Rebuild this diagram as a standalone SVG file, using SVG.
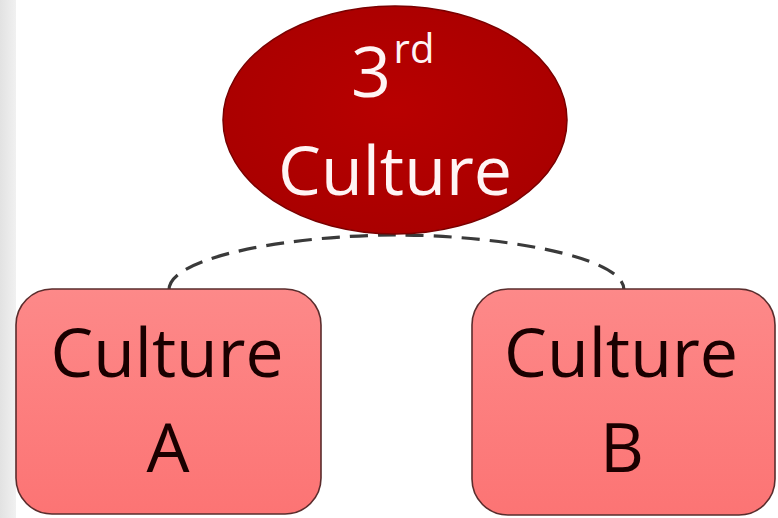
<svg xmlns="http://www.w3.org/2000/svg" width="778" height="518" viewBox="0 0 778 518">
<defs>
<linearGradient id="strip" x1="0" y1="0" x2="1" y2="0">
<stop offset="0" stop-color="#e2e2e2"/>
<stop offset="1" stop-color="#f1f1f1"/>
</linearGradient>
<radialGradient id="oval" cx="0.5" cy="0.45" r="0.6">
<stop offset="0" stop-color="#b80000"/>
<stop offset="1" stop-color="#a80000"/>
</radialGradient>
<linearGradient id="box" x1="0" y1="0" x2="0" y2="1">
<stop offset="0" stop-color="#fd8989"/>
<stop offset="1" stop-color="#fc7474"/>
</linearGradient>
</defs>
<style>
.lbl{font-family:"Open Sans","Noto Sans",sans-serif;text-anchor:middle}
.dark{fill:#1a0000}
.light{fill:#fff4f4}
.node-box{fill:url(#box);stroke:#5a2c2c;stroke-width:1.6}
.conn{fill:none;stroke:#3a3a3a;stroke-width:3.2;stroke-dasharray:18 10}
</style>
<rect x="0" y="0" width="778" height="518" fill="#ffffff"/>
<rect x="0" y="0" width="16" height="518" fill="url(#strip)"/>
<g id="connectors">
<path class="conn" d="M169,290 C169,255 300,235 396,235 C492,235 624,255 624,290"/>
</g>
<g id="node-3rd-culture">
<ellipse cx="395" cy="120" rx="172" ry="114" fill="url(#oval)" stroke="#7a0000" stroke-width="1.5"/>
<text class="lbl light" x="371" y="97" font-size="70">3</text>
<text class="lbl light" x="414" y="63" font-size="40">rd</text>
<text class="lbl light" x="395" y="195" font-size="68" textLength="234" lengthAdjust="spacingAndGlyphs">Culture</text>
</g>
<g id="node-culture-a">
<rect class="node-box" x="16" y="289" width="305" height="225" rx="36" ry="36"/>
<text class="lbl dark" x="167" y="377" font-size="68" textLength="233" lengthAdjust="spacingAndGlyphs">Culture</text>
<text class="lbl dark" x="168" y="472" font-size="68">A</text>
</g>
<g id="node-culture-b">
<rect class="node-box" x="472" y="289" width="303" height="226" rx="36" ry="36"/>
<text class="lbl dark" x="621" y="377" font-size="68" textLength="234" lengthAdjust="spacingAndGlyphs">Culture</text>
<text class="lbl dark" x="622" y="472" font-size="68">B</text>
</g>
</svg>
